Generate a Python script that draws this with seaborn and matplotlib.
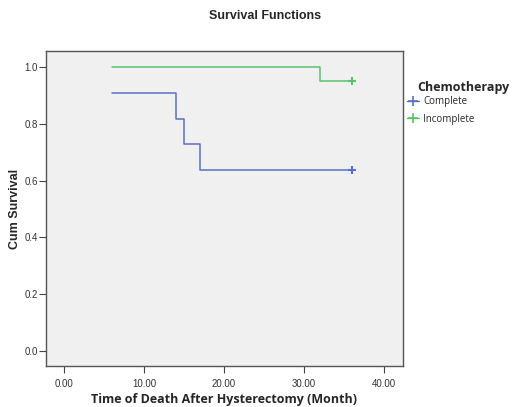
import numpy as np
import pandas as pd
import matplotlib
matplotlib.use("Agg")
import matplotlib.pyplot as plt
import seaborn as sns

# step data
complete_time = [6, 14, 15, 17, 36]
complete_surv = [0.909, 0.818, 0.727, 0.636, 0.636]
incomplete_time = [6, 32, 36]
incomplete_surv = [1.0, 0.95, 0.95]
groups = ["Complete", "Incomplete"]
colors = {"Complete": "#5b6fc6", "Incomplete": "#5cc26a"}

xticks = [0, 10, 20, 30, 40]
yticks = [0.0, 0.2, 0.4, 0.6, 0.8, 1.0]

df = pd.concat([
    pd.DataFrame({"time": complete_time, "surv": complete_surv, "group": "Complete"}),
    pd.DataFrame({"time": incomplete_time, "surv": incomplete_surv, "group": "Incomplete"}),
])

sns.set_style("white")
plt.rcParams["font.family"] = ["Liberation Sans", "DejaVu Sans"]

fig = plt.figure(figsize=(5.15, 4.07), dpi=100)
ax = fig.add_axes([0.0893, 0.1007, 0.6932, 0.7740])
ax.set_facecolor("#f0f0f0")

sns.lineplot(data=df, x="time", y="surv", hue="group", palette=colors,
             drawstyle="steps-post", linewidth=1.1, legend=False, ax=ax)

# censored marks at the end of each curve
last = df.groupby("group").tail(1)
for _, r in last.iterrows():
    ax.plot(r["time"], r["surv"], marker="+", markersize=6, mew=1.5,
            color=colors[r["group"]], linestyle="none")

ax.set_xlim(-2.25, 42.4)
ax.set_ylim(-0.053, 1.056)
ax.set_xticks(xticks)
ax.set_xticklabels([f"{t:.2f}" for t in xticks], fontsize=7, color="#333333")
ax.set_yticks(yticks)
ax.set_yticklabels([f"{t:.1f}" for t in yticks], fontsize=7, color="#333333")
ax.tick_params(axis="both", direction="out", length=5, width=0.8,
               color="#444444", pad=1, bottom=True, left=True)
ax.tick_params(axis="x", pad=4)

for s in ax.spines.values():
    s.set_color("#555555")
    s.set_linewidth(1.0)

ax.set_xlabel("Time of Death After Hysterectomy (Month)", fontsize=9,
              fontweight="bold", family="Open Sans", labelpad=3)
ax.set_ylabel("Cum Survival", fontsize=9, fontweight="bold", labelpad=2)
fig.text(0.515, 0.96, "Survival Functions", ha="center", va="center",
         fontsize=9, fontweight="bold")

# legend title drawn separately so it can sit right of the handles
fig.text(0.81, 0.786, "Chemotherapy", ha="left", va="center",
         fontsize=9, fontweight="bold", family="Open Sans")
handles = [plt.Line2D([], [], color=colors[g], marker="+", markersize=7,
                      mew=1.2, linewidth=1.0) for g in groups]
leg = fig.legend(handles, groups, loc="upper left",
                 bbox_to_anchor=(0.79, 0.763), frameon=False,
                 handlelength=1.3, handletextpad=0.4, labelspacing=0.65,
                 borderaxespad=0, borderpad=0,
                 prop={"family": "Open Sans", "size": 7})

fig.savefig("out.png", dpi=100)
